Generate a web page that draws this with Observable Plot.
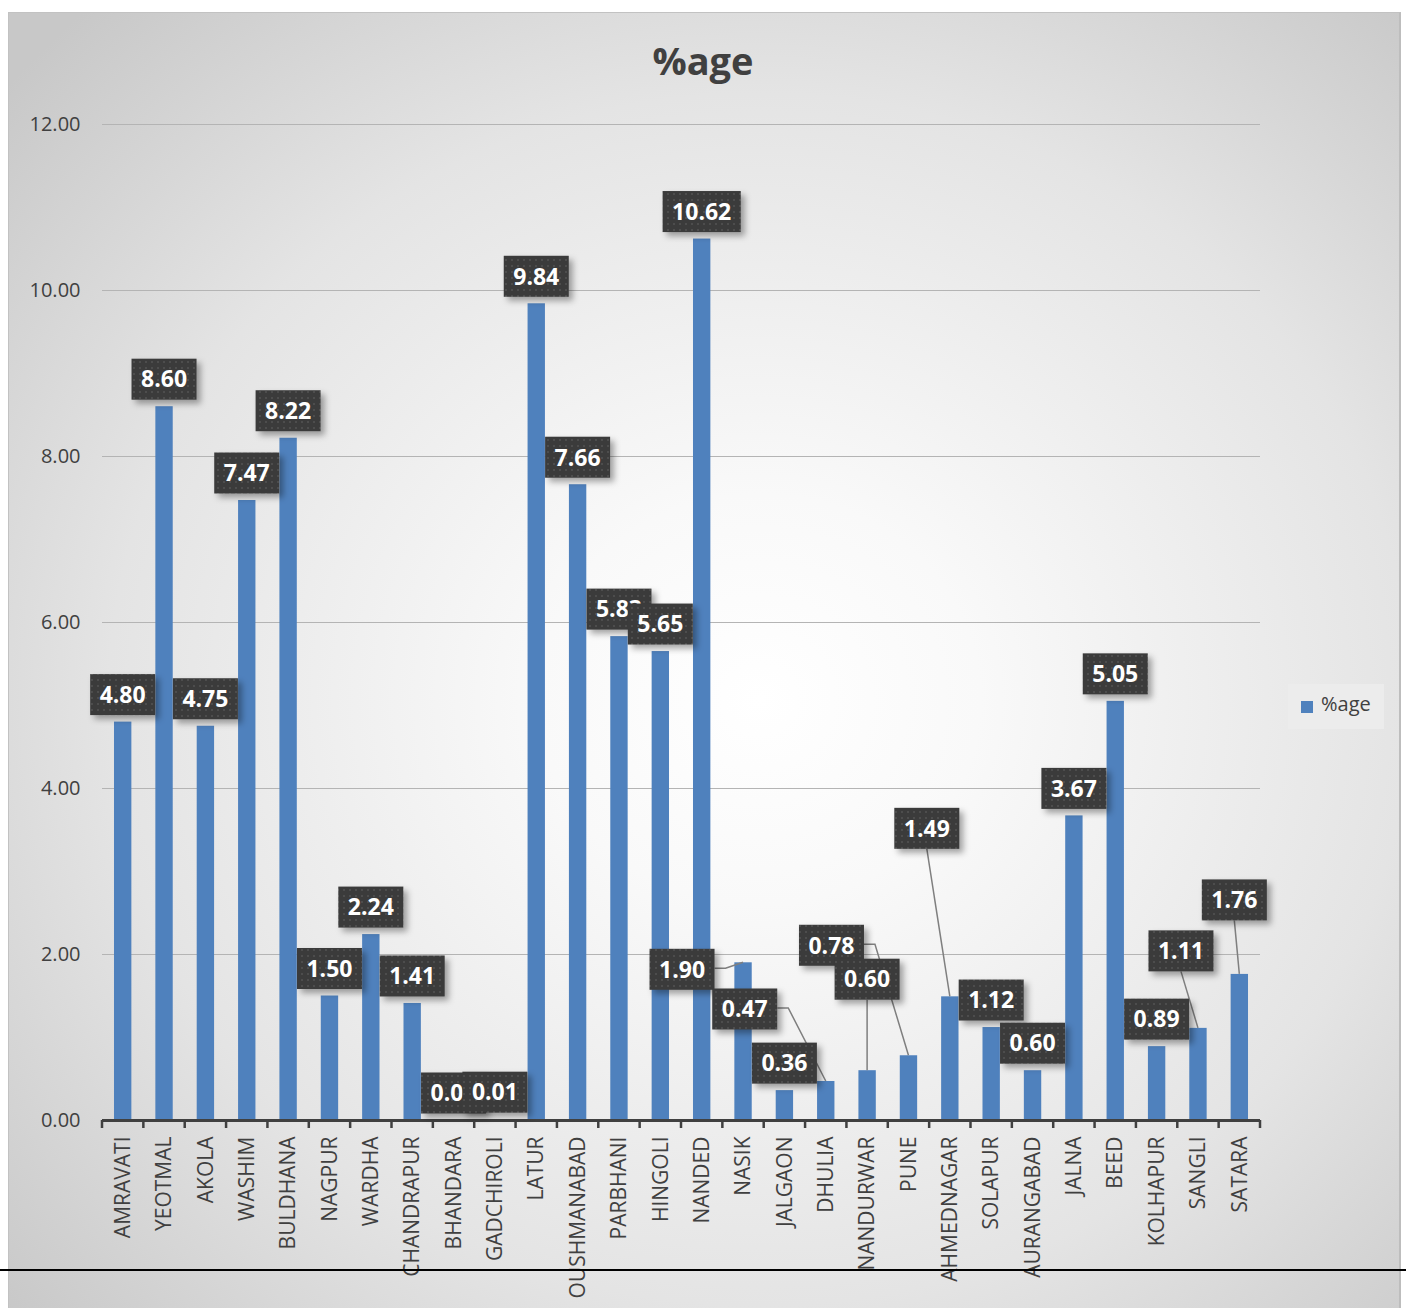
<!DOCTYPE html>
<html>
<head>
<meta charset="utf-8">
<script src="https://cdn.jsdelivr.net/npm/d3@7"></script>
<script src="https://cdn.jsdelivr.net/npm/@observablehq/plot@0.6"></script>
<style>
  body { margin: 0; width: 1406px; height: 1308px; position: relative; background: #ffffff; overflow: hidden; font-family: "Open Sans", sans-serif; }
  #bg { position: absolute; left: 8px; top: 12px; width: 1393px; height: 1296px;
        border-top: 1px solid #c2c2c2; border-left: 1px solid #c2c2c2; border-right: 2px solid #bdbdbd; box-sizing: border-box;
        background: radial-gradient(ellipse 72% 72% at 54% 53%, #ffffff 0%, #f9f9f9 22%, #e4e4e4 65%, #c8c8c8 100%); }
  #title { position: absolute; left: 0; top: 34px; width: 1406px; text-align: center; font: bold 38px "Open Sans", sans-serif; color: #404040; }
  #chart { position: absolute; left: 0; top: 0; }
  #legend { position: absolute; left: 1288px; top: 684px; width: 96px; height: 45px; background: #ececec; }
  #legend .sw { position: absolute; left: 13px; top: 17px; width: 12px; height: 12px; }
  #legend .tx { position: absolute; left: 33px; top: 6px; font: 20px "Open Sans", sans-serif; color: #404040; }
  #cut { position: absolute; left: 0; top: 1269px; width: 1406px; height: 2px; background: #000; z-index: 5; }
</style>
</head>
<body>
<div id="bg"></div>
<div id="chart"></div>
<div id="title"></div>
<div id="legend"><div class="sw"></div><div class="tx"></div></div>
<div id="cut"></div>
<script>
// ---- data ----
const seriesName = "%age";
const districts = ["AMRAVATI","YEOTMAL","AKOLA","WASHIM","BULDHANA","NAGPUR","WARDHA","CHANDRAPUR","BHANDARA","GADCHIROLI","LATUR","OUSHMANABAD","PARBHANI","HINGOLI","NANDED","NASIK","JALGAON","DHULIA","NANDURWAR","PUNE","AHMEDNAGAR","SOLAPUR","AURANGABAD","JALNA","BEED","KOLHAPUR","SANGLI","SATARA"];
const percentages = [4.80,8.60,4.75,7.47,8.22,1.50,2.24,1.41,0.00,0.01,9.84,7.66,5.83,5.65,10.62,1.90,0.36,0.47,0.60,0.78,1.49,1.12,0.60,3.67,5.05,0.89,1.11,1.76];
const yTicks = [0,2,4,6,8,10,12];
// pixel shifts of moved data labels (layout only)
const labelShift = {NASIK:[-61,34], DHULIA:[-81,-45], NANDURWAR:[0,-64], PUNE:[-77,-83], AHMEDNAGAR:[-23,-141], SANGLI:[-17,-50], SATARA:[-5,-47]};

const barColor = "#4f81bd";
const textColor = "#404040";

document.getElementById("title").textContent = seriesName;
document.querySelector("#legend .tx").textContent = seriesName;
document.querySelector("#legend .sw").style.background = barColor;

const data = districts.map((d, i) => ({district: d, value: percentages[i]}));

const plot = Plot.plot({
  width: 1406, height: 1308,
  marginLeft: 102, marginRight: 146, marginTop: 124, marginBottom: 188,
  style: {background: "transparent", fontFamily: "Open Sans, sans-serif", fontSize: "20px", color: textColor, overflow: "visible"},
  x: {domain: districts, paddingInner: 0.58, paddingOuter: 0.29, round: false, tickRotate: -90, tickSize: 0, tickPadding: 16, label: null},
  y: {domain: [0, 12], ticks: yTicks, tickFormat: d3.format(".2f"), tickSize: 0, tickPadding: 22, label: null},
  marks: [
    Plot.ruleY(yTicks.filter(t => t > 0), {stroke: "#b4b4b4", strokeOpacity: 1, strokeWidth: 1.2}),
    Plot.barY(data, {x: "district", y: "value", fill: barColor}),
    Plot.ruleY([0], {stroke: "#404040", strokeWidth: 3})
  ]
});
document.getElementById("chart").appendChild(plot);
// slightly larger category labels
d3.select(plot).selectAll("g[aria-label='x-axis tick label'] text, g[aria-label='x-axis'] text").attr("font-size", 21);

const xs = plot.scale("x"), ys = plot.scale("y");
const bw = xs.bandwidth, step = xs.step;
const svg = d3.select(plot);
const defs = svg.append("defs");
const pat = defs.append("pattern").attr("id", "dots").attr("width", 6).attr("height", 6).attr("patternUnits", "userSpaceOnUse");
pat.append("rect").attr("width", 6).attr("height", 6).attr("fill", "#3a3a3a");
pat.append("rect").attr("x", 1).attr("y", 1).attr("width", 2).attr("height", 2).attr("fill", "#4e4e4e");
const flt = defs.append("filter").attr("id", "shadow").attr("x", "-30%").attr("y", "-30%").attr("width", "170%").attr("height", "170%");
flt.append("feDropShadow").attr("dx", 4).attr("dy", 4).attr("stdDeviation", 3).attr("flood-color", "#000").attr("flood-opacity", 0.35);

// axis tick marks at category boundaries
const y0 = ys.apply(0);
const bounds = districts.map(d => xs.apply(d) - (step - bw) / 2);
bounds.push(xs.apply(districts[districts.length - 1]) + bw + (step - bw) / 2);
const gt = svg.append("g");
bounds.forEach(b => gt.append("line").attr("x1", b).attr("x2", b).attr("y1", y0).attr("y2", y0 + 8).attr("stroke", "#404040").attr("stroke-width", 2.5));

// data labels
const labels = data.map((d, i) => {
  const cx0 = xs.apply(d.district) + bw / 2;
  const top = ys.apply(d.value);
  const s = labelShift[d.district] || [0, 0];
  return {i, d, barX: cx0, barTop: top, cx: cx0 + s[0], cy: top - 27 + s[1], moved: !!labelShift[d.district]};
});
const gLead = svg.append("g");
const gLab = svg.append("g");
const ordered = labels.slice().sort((a, b) => (Math.abs(a.cy - b.cy) > 8 ? a.cy - b.cy : a.i - b.i));
ordered.forEach(L => {
  const g = gLab.append("g");
  const r = g.append("rect").attr("fill", "url(#dots)").attr("filter", "url(#shadow)");
  const t = g.append("text").attr("x", L.cx).attr("y", L.cy).attr("dy", "0.36em").attr("text-anchor", "middle")
    .attr("fill", "#ffffff").attr("font-weight", "bold").attr("font-size", 23).attr("font-family", "Open Sans, sans-serif")
    .text(d3.format(".2f")(L.d.value));
  const w = t.node().getComputedTextLength() + 19;
  const h = 41;
  r.attr("x", L.cx - w / 2).attr("y", L.cy - h / 2).attr("width", w).attr("height", h);
  L.w = w; L.h = h;
});
labels.filter(L => L.moved).forEach(L => {
  const right = L.cx + L.w / 2;
  let pts;
  if (right < L.barX - 4) {
    const ly = L.cy - 1;
    pts = [[right, ly], [right + 11, ly], [L.barX, L.barTop]];
  } else {
    pts = [[L.cx, L.cy + L.h / 2], [L.barX, L.barTop]];
  }
  gLead.append("path").attr("d", d3.line()(pts)).attr("fill", "none").attr("stroke", "#7f7f7f").attr("stroke-width", 1.5);
});
</script>
</body>
</html>
